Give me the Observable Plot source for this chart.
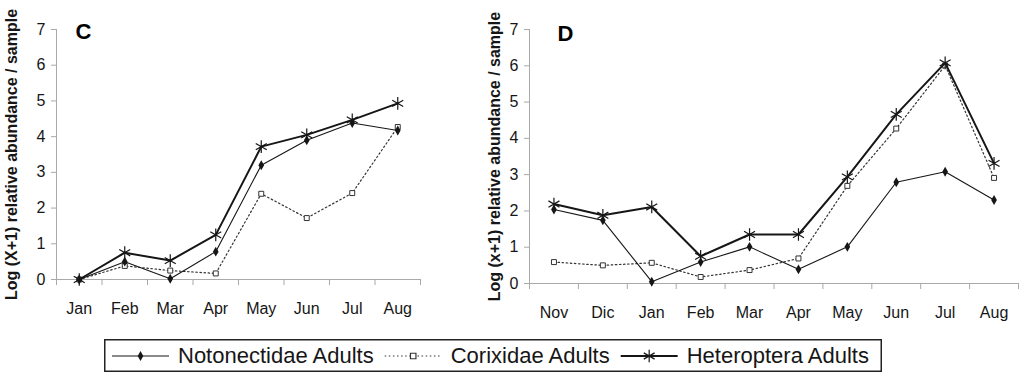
<!DOCTYPE html>
<html>
<head>
<meta charset="utf-8">
<script src="https://cdn.jsdelivr.net/npm/d3@7"></script>
<script src="https://cdn.jsdelivr.net/npm/@observablehq/plot@0.6"></script>
<style>
  html, body { margin: 0; padding: 0; background: #fff; }
  #fig { position: relative; width: 1019px; height: 376px; overflow: hidden; font-family: "Liberation Sans", Arial, sans-serif; }
  #panelC { position: absolute; left: 0; top: 0; }
  #panelD { position: absolute; left: 470px; top: 0; }
  #legend { position: absolute; left: 104px; top: 339px; }
</style>
</head>
<body>
<div id="fig">
  <div id="panelC"></div>
  <div id="panelD"></div>
  <div id="legend"></div>
</div>
<script>
// Panel C: January to August
const monthsC = ["Jan", "Feb", "Mar", "Apr", "May", "Jun", "Jul", "Aug"];
const notonectidaeC = [0, 0.5, 0.02, 0.78, 3.2, 3.9, 4.38, 4.17];
const corixidaeC    = [0, 0.38, 0.25, 0.17, 2.4, 1.72, 2.42, 4.27];
const heteropteraC  = [0, 0.75, 0.53, 1.25, 3.72, 4.05, 4.47, 4.93];

// Panel D: November to August
const monthsD = ["Nov", "Dic", "Jan", "Feb", "Mar", "Apr", "May", "Jun", "Jul", "Aug"];
const notonectidaeD = [2.04, 1.74, 0.05, 0.59, 1.01, 0.39, 1.01, 2.79, 3.08, 2.3];
const corixidaeD    = [0.59, 0.5, 0.57, 0.18, 0.37, 0.69, 2.69, 4.27, 6.01, 2.91];
const heteropteraD  = [2.19, 1.88, 2.11, 0.75, 1.35, 1.35, 2.94, 4.66, 6.08, 3.31];

const yTicks = [0, 1, 2, 3, 4, 5, 6, 7];
const seriesNames = ["Notonectidae Adults", "Corixidae Adults", "Heteroptera Adults"];

const AXIS = "#a9a9a9";
const INK = "#161616";
const FONT = "'Liberation Sans', Arial, sans-serif";

function panel(cfg) {
  const n = cfg.months.length;
  const rows = cfg.months.map((m, i) => ({
    i, month: m, noto: cfg.noto[i], corix: cfg.corix[i], hetero: cfg.hetero[i]
  }));
  const bounds = d3.range(n + 1).map(k => k - 0.5);
  return Plot.plot({
    width: cfg.width,
    height: 330,
    marginLeft: cfg.marginLeft,
    marginRight: cfg.marginRight,
    marginTop: 29,
    marginBottom: cfg.marginBottom,
    style: { fontFamily: FONT, fontSize: "16px", color: INK, background: "transparent", overflow: "visible" },
    x: { domain: [-0.5, n - 0.5], axis: null },
    y: { domain: [0, 7], axis: null },
    marks: [
      // axis lines
      Plot.ruleY([0], { stroke: AXIS }),
      Plot.ruleX([-0.5], { stroke: AXIS }),
      // y ticks and labels
      Plot.axisY(yTicks, { tickSize: 5, tickPadding: 6, stroke: AXIS, fill: INK, label: null, fontSize: 16 }),
      // x tick marks between months
      Plot.axisX(bounds, { tickSize: 6, stroke: AXIS, tickFormat: () => "", label: null }),
      // month labels
      Plot.axisX(d3.range(n), { tickSize: 0, tickPadding: 23, tickFormat: k => cfg.months[k], fill: INK, label: null, fontSize: 16 }),
      // y title
      Plot.text([cfg.title], { text: d => d, frameAnchor: "left", textAnchor: "middle", rotate: -90, dx: cfg.titleDx, fontWeight: "bold", fontSize: 16, fill: INK }),
      // panel letter
      Plot.text([cfg.letter], { text: d => d, frameAnchor: "top-left", textAnchor: "start", dx: cfg.letterDx, dy: cfg.letterDy, fontWeight: "bold", fontSize: 22, fill: "#000" }),
      // Corixidae: dotted line, open squares
      Plot.line(rows, { x: "i", y: "corix", stroke: "#333", strokeWidth: 1.2, strokeDasharray: "1.5,2.6" }),
      Plot.dot(rows, { x: "i", y: "corix", symbol: "square", r: 2.8, fill: "#fff", stroke: "#333", strokeWidth: 1 }),
      // Notonectidae: thin line, filled diamonds
      Plot.line(rows, { x: "i", y: "noto", stroke: INK, strokeWidth: 1.1 }),
      Plot.dot(rows, { x: "i", y: "noto", symbol: "diamond", r: 3, fill: INK, stroke: "none" }),
      // Heteroptera: thick line, asterisks
      Plot.line(rows, { x: "i", y: "hetero", stroke: INK, strokeWidth: 2 }),
      Plot.dot(rows, { x: "i", y: "hetero", symbol: "asterisk", r: 6, stroke: INK, strokeWidth: 1.2 })
    ]
  });
}

document.getElementById("panelC").append(panel({
  months: monthsC, noto: notonectidaeC, corix: corixidaeC, hetero: heteropteraC,
  letter: "C", title: "Log (X+1) relative abundance / sample",
  width: 440, marginLeft: 56, marginRight: 20, marginBottom: 51,
  titleDx: -45, letterDx: 19, letterDy: -6
}));

document.getElementById("panelD").append(panel({
  months: monthsD, noto: notonectidaeD, corix: corixidaeD, hetero: heteropteraD,
  letter: "D", title: "Log (x+1) relative abundance / sample",
  width: 549, marginLeft: 59, marginRight: 1, marginBottom: 47,
  titleDx: -35, letterDx: 28, letterDy: -4.5
}));

// Legend: boxed row of line samples with their markers
(function legend() {
  const W = 778, H = 33;
  const svg = d3.select("#legend").append("svg")
    .attr("width", W).attr("height", H)
    .style("display", "block");
  svg.append("rect").attr("x", 0.75).attr("y", 0.75).attr("width", W - 1.5).attr("height", H - 1.5)
    .attr("fill", "#fff").attr("stroke", "#222").attr("stroke-width", 1.5);
  const styles = [
    { width: 1.1, dash: null, symbol: d3.symbolDiamond, size: 28, fill: INK, stroke: "none" },
    { width: 1.2, dash: "1.5,2.6", symbol: d3.symbolSquare, size: 30, fill: "#fff", stroke: "#333" },
    { width: 2, dash: null, symbol: d3.symbolAsterisk, size: 110, fill: "none", stroke: INK }
  ];
  let x = 8;
  const cy = 17;
  seriesNames.forEach((name, k) => {
    const s = styles[k];
    const len = 57;
    const ln = svg.append("line").attr("x1", x).attr("x2", x + len).attr("y1", cy).attr("y2", cy)
      .attr("stroke", k === 1 ? "#333" : INK).attr("stroke-width", s.width);
    if (s.dash) ln.attr("stroke-dasharray", s.dash);
    svg.append("path").attr("d", d3.symbol(s.symbol, s.size)())
      .attr("transform", `translate(${x + len / 2},${cy})`)
      .attr("fill", s.fill).attr("stroke", s.stroke).attr("stroke-width", 1.2);
    x += len + 9;
    const t = svg.append("text").attr("x", x).attr("y", 24)
      .attr("font-family", FONT).attr("font-size", 22).attr("fill", INK).text(name);
    x += t.node().getComputedTextLength() + 11;
  });
})();
</script>
</body>
</html>
